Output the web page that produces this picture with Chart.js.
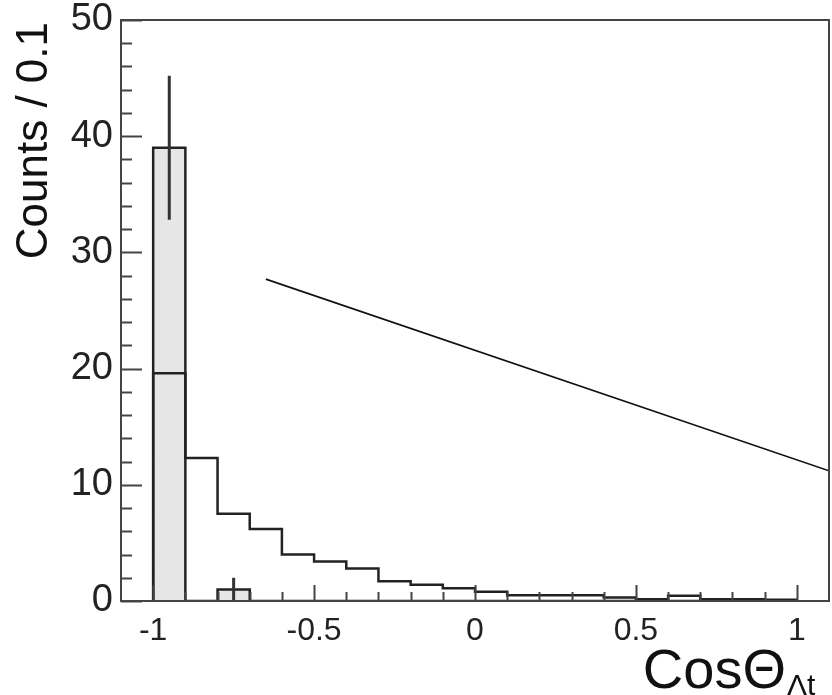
<!DOCTYPE html>
<html>
<head>
<meta charset="utf-8">
<title>CosTheta</title>
<script src="https://cdn.jsdelivr.net/npm/chart.js@4.4.1/dist/chart.umd.min.js"></script>
<style>
  html, body { margin: 0; padding: 0; background: #fff; }
  #wrap { width: 832px; height: 695px; }
</style>
</head>
<body>
<div id="wrap"><canvas id="cosChart" width="832" height="695"></canvas></div>
<script>
// histogram bins (lower edges), width 0.1
const binLow = [-1.0, -0.9, -0.8, -0.7, -0.6, -0.5, -0.4, -0.3, -0.2, -0.1,
                0.0, 0.1, 0.2, 0.3, 0.4, 0.5, 0.6, 0.7, 0.8, 0.9];
const binWidth = 0.1;

// open (outline) histogram
const mcCounts = [19.6, 12.3, 7.5, 6.2, 4.0, 3.4, 2.8, 1.7, 1.4, 1.1,
                  0.8, 0.5, 0.5, 0.5, 0.3, 0.15, 0.45, 0.15, 0.15, 0.1];

// filled histogram (data) with error bars
const dataCounts = [39, 0, 1, 0, 0, 0, 0, 0, 0, 0,
                    0, 0, 0, 0, 0, 0, 0, 0, 0, 0];
const dataErrLow  = [32.8, 0, 0, 0, 0, 0, 0, 0, 0, 0, 0, 0, 0, 0, 0, 0, 0, 0, 0, 0];
const dataErrHigh = [45.2, 0, 2.0, 0, 0, 0, 0, 0, 0, 0, 0, 0, 0, 0, 0, 0, 0, 0, 0, 0];

// straight line
const lineX = [-0.65, 1.1];
const lineY = [27.7, 11.2];

// axis ticks
const xTickLabels = [-1, -0.5, 0, 0.5, 1];
const yTickLabels = [0, 10, 20, 30, 40, 50];

const FONT = '"Liberation Sans", Arial, Helvetica, sans-serif';

// step outline points from bins
function stepPoints(counts) {
    const pts = [{ x: binLow[0], y: 0 }];
    counts.forEach((c, i) => pts.push({ x: binLow[i], y: c }));
    pts.push({ x: binLow[binLow.length - 1] + binWidth, y: counts[counts.length - 1] });
    pts.push({ x: binLow[binLow.length - 1] + binWidth, y: 0 });
    return pts;
}

const errPoints = [];
dataCounts.forEach((c, i) => {
    if (dataErrHigh[i] > 0) {
        const xc = binLow[i] + binWidth / 2;
        errPoints.push({ x: xc, y: dataErrLow[i] });
        errPoints.push({ x: xc, y: dataErrHigh[i] });
        errPoints.push({ x: xc, y: null });
    }
});

// frame, inside ticks and axis titles
const framePlugin = {
    id: 'framePlugin',
    afterDraw(chart) {
        const { ctx, chartArea: a, scales } = chart;
        const xs = scales.x, ys = scales.y;
        ctx.save();
        ctx.strokeStyle = '#444';
        ctx.lineWidth = 2;
        ctx.strokeRect(a.left, a.top, a.right - a.left, a.bottom - a.top);

        // y ticks: major every 10, minor every 2
        for (let v = 0; v <= 50; v += 2) {
            const py = Math.round(ys.getPixelForValue(v)) + 0.5;
            const len = v % 10 === 0 ? 21 : 11;
            ctx.beginPath();
            ctx.moveTo(a.left, py);
            ctx.lineTo(a.left + len, py);
            ctx.stroke();
        }
        // x ticks: major every 0.5, minor every 0.1
        for (let k = -10; k <= 10; k++) {
            const px = Math.round(xs.getPixelForValue(k / 10)) + 0.5;
            const len = k % 5 === 0 ? 16 : 9;
            ctx.beginPath();
            ctx.moveTo(px, a.bottom);
            ctx.lineTo(px, a.bottom - len);
            ctx.stroke();
        }

        ctx.fillStyle = '#111';
        // y title
        ctx.save();
        ctx.translate(47, a.top + 2);
        ctx.rotate(-Math.PI / 2);
        ctx.font = '44px ' + FONT;
        ctx.textAlign = 'right';
        ctx.textBaseline = 'alphabetic';
        ctx.fillText('Counts / 0.1', 0, 0);
        ctx.restore();

        // x title with subscript
        ctx.font = '56px ' + FONT;
        ctx.textAlign = 'right';
        ctx.textBaseline = 'alphabetic';
        ctx.fillText('CosΘ', 786, 688);
        ctx.font = '30px ' + FONT;
        ctx.textAlign = 'left';
        ctx.fillText('Λt', 787, 695);
        ctx.restore();
    }
};

const ctx = document.getElementById('cosChart').getContext('2d');
new Chart(ctx, {
    type: 'line',
    data: {
        datasets: [
            {
                label: 'data',
                data: stepPoints(dataCounts),
                stepped: 'before',
                borderColor: '#222',
                borderWidth: 2.5,
                backgroundColor: '#e6e6e6',
                fill: 'origin',
                pointRadius: 0,
                order: 4
            },
            {
                label: 'outline',
                data: stepPoints(mcCounts),
                stepped: 'before',
                borderColor: '#222',
                borderWidth: 2.5,
                fill: false,
                pointRadius: 0,
                order: 3
            },
            {
                label: 'errors',
                data: errPoints,
                borderColor: '#333',
                borderWidth: 3,
                spanGaps: false,
                fill: false,
                pointRadius: 0,
                order: 2
            },
            {
                label: 'line',
                data: lineX.map((x, i) => ({ x: x, y: lineY[i] })),
                borderColor: '#111',
                borderWidth: 1.6,
                fill: false,
                pointRadius: 0,
                order: 1
            }
        ]
    },
    options: {
        responsive: false,
        animation: false,
        devicePixelRatio: 1,
        layout: { padding: { top: 20, right: 3, left: 0, bottom: 0 } },
        plugins: { legend: { display: false }, tooltip: { enabled: false } },
        scales: {
            x: {
                type: 'linear',
                min: -1.1,
                max: 1.1,
                grid: { display: false, drawTicks: false },
                border: { display: false },
                afterBuildTicks: s => { s.ticks = xTickLabels.map(v => ({ value: v })); },
                afterFit: s => { s.height = 94; s.paddingLeft = 0; s.paddingRight = 0; },
                ticks: {
                    autoSkip: false,
                    maxRotation: 0,
                    padding: 11,
                    color: '#222',
                    font: { family: FONT, size: 32 },
                    callback: v => String(v)
                }
            },
            y: {
                min: 0,
                max: 50,
                grid: { display: false, drawTicks: false },
                border: { display: false },
                afterBuildTicks: s => { s.ticks = yTickLabels.map(v => ({ value: v })); },
                afterFit: s => { s.width = 121; s.paddingTop = 0; s.paddingBottom = 0; },
                ticks: {
                    padding: 8,
                    color: '#222',
                    font: { family: FONT, size: 38 },
                    callback: v => String(v)
                }
            }
        }
    },
    plugins: [framePlugin]
});
</script>
</body>
</html>
